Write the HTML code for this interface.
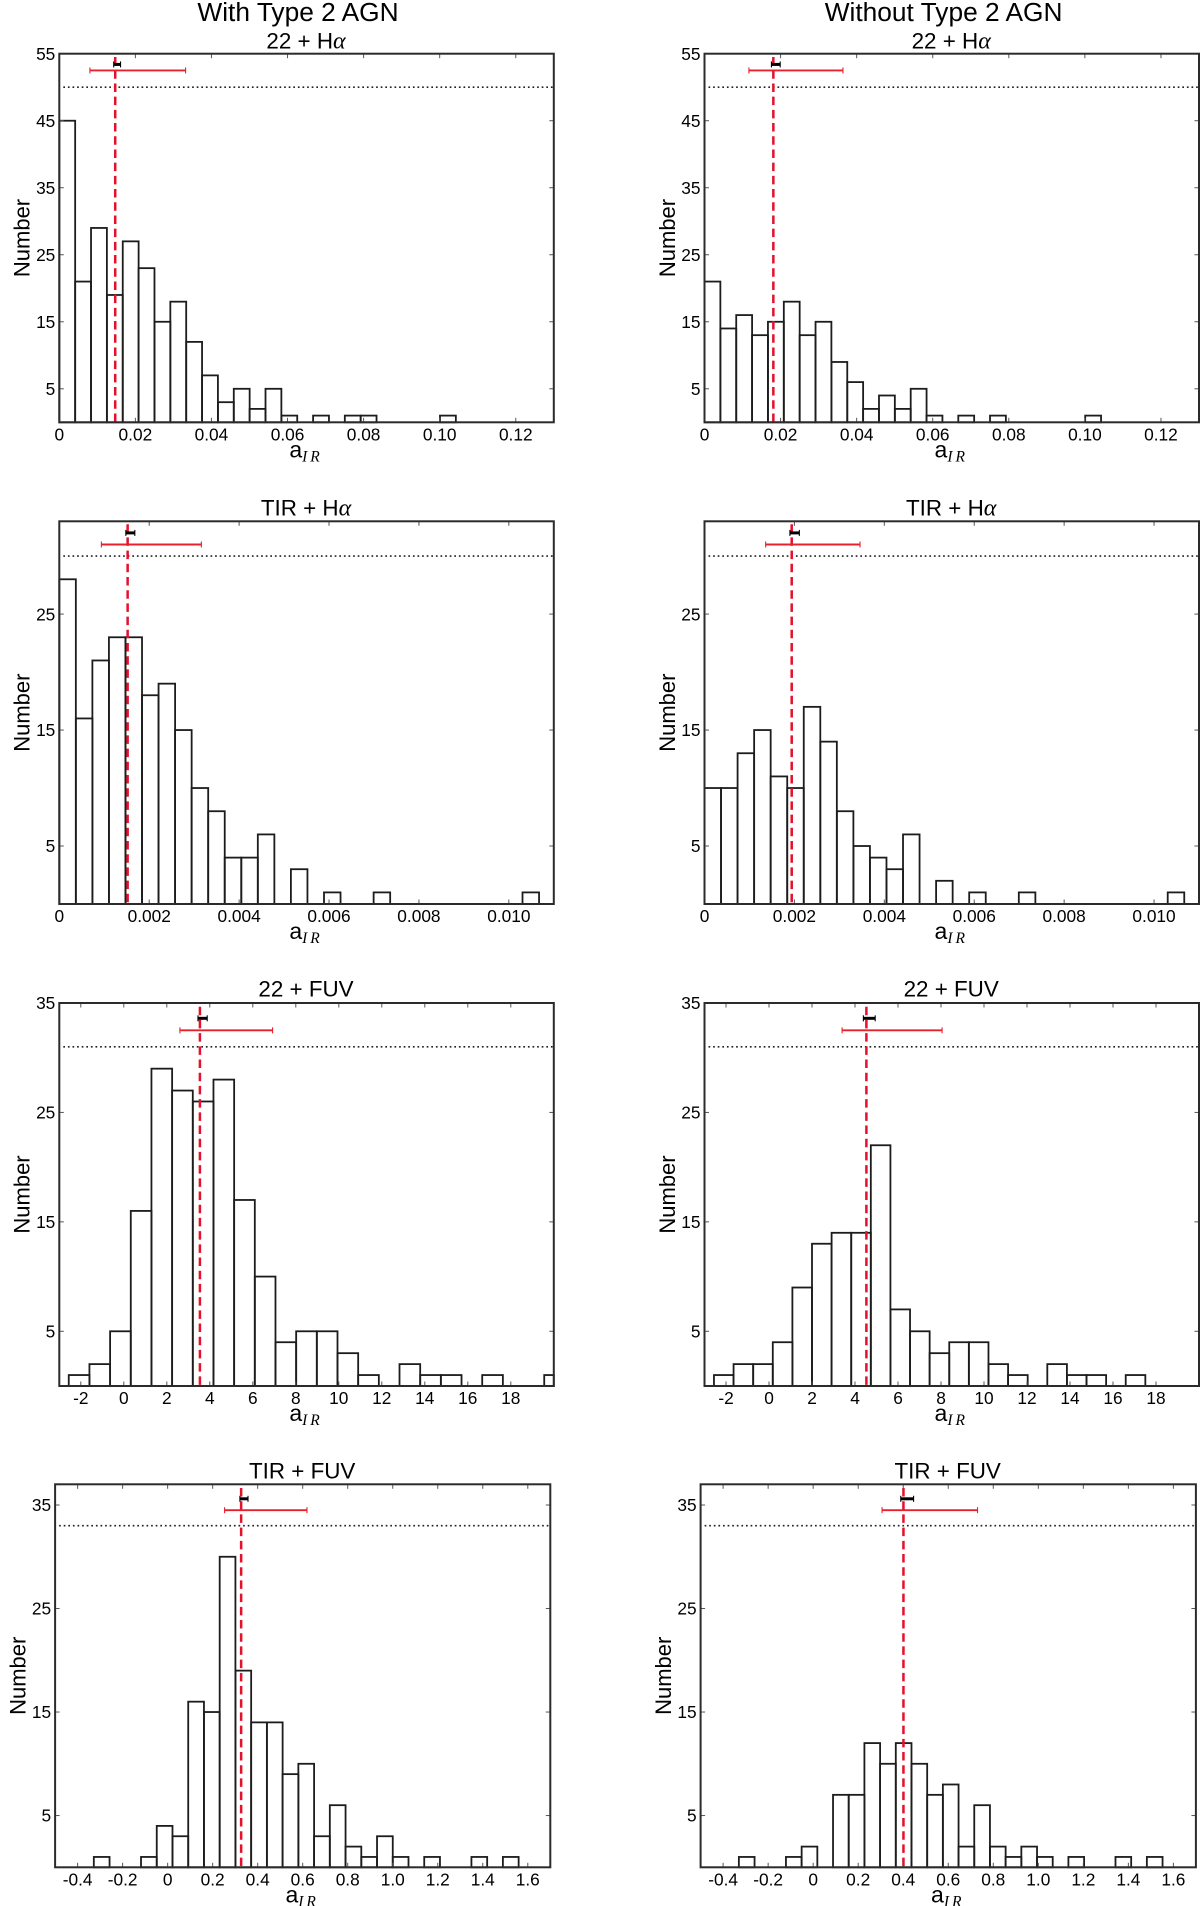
<!DOCTYPE html>
<html lang="en">
<head>
<meta charset="utf-8">
<title>Histograms of a_IR with and without Type 2 AGN</title>
<style>
html,body{margin:0;padding:0;background:#fff;}
svg{display:block;}
text{font-family:"Liberation Sans",sans-serif;fill:#000;}
.greek{font-family:"Liberation Serif",serif;font-style:italic;font-size:24px;}
</style>
</head>
<body>
<svg id="figure" xmlns="http://www.w3.org/2000/svg" width="1200" height="1906" viewBox="0 0 1200 1906">
<rect x="0" y="0" width="1200" height="1906" fill="#fff"/>
<text x="298" y="21" font-size="26.3" text-anchor="middle">With Type 2 AGN</text>
<text x="943.6" y="21" font-size="26.3" text-anchor="middle">Without Type 2 AGN</text>
<text x="306" y="48.3" font-size="22.4" text-anchor="middle">22 + H<tspan class="greek">α</tspan></text>
<text x="951.2" y="48.3" font-size="22.4" text-anchor="middle">22 + H<tspan class="greek">α</tspan></text>
<text x="306" y="515.5" font-size="22.4" text-anchor="middle">TIR + H<tspan class="greek">α</tspan></text>
<text x="951.2" y="515.5" font-size="22.4" text-anchor="middle">TIR + H<tspan class="greek">α</tspan></text>
<text x="306" y="996.7" font-size="22.4" text-anchor="middle">22 + FUV</text>
<text x="951.2" y="996.7" font-size="22.4" text-anchor="middle">22 + FUV</text>
<text x="302.2" y="1478.7" font-size="22.4" text-anchor="middle">TIR + FUV</text>
<text x="947.7" y="1478.7" font-size="22.4" text-anchor="middle">TIR + FUV</text>
</svg>
<script>
// Histogram counts
const countsWith22Ha = [45,21,29,19,27,23,15,18,12,7,3,5,2,5,1,0,1,0,1,1,0,0,0,0,1,0,0,0,0,0];
const countsWithout22Ha = [21,14,16,13,15,18,13,15,9,6,2,4,2,5,1,0,1,0,1,0,0,0,0,0,1,0,0,0,0,0];
const countsWithTirHa = [28,16,21,23,23,18,19,15,10,8,4,4,6,0,3,0,1,0,0,1,0,0,0,0,0,0,0,0,1];
const countsWithoutTirHa = [10,10,13,15,11,10,17,14,8,5,4,3,6,0,2,0,1,0,0,1,0,0,0,0,0,0,0,0,1];
const countsWith22Fuv = [1,2,5,16,29,27,26,28,17,10,4,5,5,3,1,0,2,1,1,0,1,0,0,1];
const countsWithout22Fuv = [1,2,2,4,9,13,14,14,22,7,5,3,4,4,2,1,0,2,1,1,0,1,0,0];
const countsWithTirFuv = [1,0,0,1,4,3,16,15,30,19,14,14,9,10,3,6,2,1,3,1,0,1,0,0,1,0,1];
const countsWithoutTirFuv = [1,0,0,1,2,0,7,7,12,10,12,10,7,8,2,6,2,1,2,1,0,1,0,0,1,0,1];

// Bin geometry in data units (first edge and width), panel order: row by row, left then right
const binStarts = [0,0,0,0,-2.56,-2.56,-0.328,-0.33];
const binWidths = [0.00417,0.00417,0.000368,0.000368,0.9615,0.912,0.0699,0.0697];

// Axis limits and tick labels
const xLimits22Ha = [0,0.13];
const xLimitsTirHa = [0,0.011];
const xLimits22Fuv = [-3,20];
const xLimitsTirFuv = [-0.5,1.7];
const yMaxima = [55,33,35,37];
const xTickLabels22Ha = ["0","0.02","0.04","0.06","0.08","0.10","0.12"];
const xTickLabelsTirHa = ["0","0.002","0.004","0.006","0.008","0.010"];
const xTickLabels22Fuv = ["-2","0","2","4","6","8","10","12","14","16","18"];
const xTickLabelsTirFuv = ["-0.4","-0.2","0","0.2","0.4","0.6","0.8","1.0","1.2","1.4","1.6"];
const yTickLabels22Ha = ["5","15","25","35","45","55"];
const yTickLabelsTirHa = ["5","15","25"];
const yTickLabels22Fuv = ["5","15","25","35"];
const yTickLabelsTirFuv = ["5","15","25","35"];

// Summary statistics drawn on each panel
const meanValues = [0.0147,0.0181,0.00152,0.00194,3.54,4.53,0.3265,0.401];
const redLow = [0.00805,0.01168,0.000936,0.00136,2.61,3.4,0.253,0.306];
const redHigh = [0.0332,0.0364,0.00316,0.00346,6.92,8.05,0.619,0.73];
const blackLow = [0.0143,0.0176,0.00148,0.0019,3.45,4.39,0.321,0.389];
const blackHigh = [0.0161,0.0199,0.00168,0.00211,3.88,4.94,0.357,0.446];
const redLevels = [52.5,31,32.5,34.5];
const blackLevels = [53.4,32,33.6,35.6];
const dottedLevels = [50,30,31,33];
const meanTops = [54.5,32.75,34.66,36.64];

// Frame layout
const rowFrames = [{top:53.7,bottom:422.3},{top:521.3,bottom:904},{top:1003,bottom:1386},{top:1484.3,bottom:1867.3}];
const colFrames = [[{left:59.3,right:553.8},{left:704.5,right:1199}],
                   [{left:59.3,right:553.8},{left:704.5,right:1199}],
                   [{left:59.3,right:553.8},{left:704.5,right:1199}],
                   [{left:55.1,right:550.3},{left:700.6,right:1195.9}]];

const allCounts = [countsWith22Ha,countsWithout22Ha,countsWithTirHa,countsWithoutTirHa,countsWith22Fuv,countsWithout22Fuv,countsWithTirFuv,countsWithoutTirFuv];
const allXLimits = [xLimits22Ha,xLimitsTirHa,xLimits22Fuv,xLimitsTirFuv];
const allXTicks = [xTickLabels22Ha,xTickLabelsTirHa,xTickLabels22Fuv,xTickLabelsTirFuv];
const allYTicks = [yTickLabels22Ha,yTickLabelsTirHa,yTickLabels22Fuv,yTickLabelsTirFuv];

const SVG_NS = "http://www.w3.org/2000/svg";
const figure = document.getElementById("figure");
const INK = "#1c1c1c";
const FRAME_INK = "#2b2b2b";
const TICK_INK = "#555";
const RED_LINE = "#e4102c";
const RED_BAR = "#e8202c";

function svgEl(tag, props, parent) {
  const node = document.createElementNS(SVG_NS, tag);
  for (const key in props) node.setAttribute(key, props[key]);
  parent.appendChild(node);
  return node;
}

function drawPanel(row, col) {
  const idx = row * 2 + col;
  const frame = {top: rowFrames[row].top, bottom: rowFrames[row].bottom, left: colFrames[row][col].left, right: colFrames[row][col].right};
  const limits = allXLimits[row];
  const yMax = yMaxima[row];
  const xScale = v => frame.left + (v - limits[0]) / (limits[1] - limits[0]) * (frame.right - frame.left);
  const yScale = v => frame.bottom - v / yMax * (frame.bottom - frame.top);

  const group = svgEl("g", {}, figure);
  
  

  // bars
  allCounts[idx].forEach((count, i) => {
    const edge = binStarts[idx] + i * binWidths[idx];
    const x0 = xScale(edge);
    const x1 = Math.min(xScale(edge + binWidths[idx]), frame.right);
    if (x0 >= frame.right) return;
    const bar = svgEl("rect", {x: x0, y: yScale(count), width: x1 - x0, height: yScale(0) - yScale(count), fill: "none", stroke: INK, "stroke-width": 1.8}, group);
    
    
  });

  // dotted reference line
  const dotted = svgEl("line", {x1: frame.left + 4, x2: frame.right, y1: yScale(dottedLevels[row]), y2: yScale(dottedLevels[row]), stroke: "#222", "stroke-width": 1.6, "stroke-dasharray": "1.7 2.9"}, group);
  
  

  // mean dashed line
  const meanLine = svgEl("line", {x1: xScale(meanValues[idx]), x2: xScale(meanValues[idx]), y1: yScale(meanTops[row]), y2: yScale(0), stroke: RED_LINE, "stroke-width": 2.5, "stroke-dasharray": "8.5 4.7"}, group);
  
  

  // red error bar
  const redY = yScale(redLevels[row]);
  const redBar = svgEl("path", {d: "M" + xScale(redLow[idx]) + " " + redY + "H" + xScale(redHigh[idx]), stroke: RED_BAR, "stroke-width": 1.9, fill: "none"}, group);
  
  
  [redLow[idx], redHigh[idx]].forEach(v => {
    const cap = svgEl("line", {x1: xScale(v), x2: xScale(v), y1: redY - 3, y2: redY + 3, stroke: RED_BAR, "stroke-width": 1.1}, group);
    
    
  });

  // black error bar
  const blackY = yScale(blackLevels[row]);
  const blackBar = svgEl("path", {d: "M" + xScale(blackLow[idx]) + " " + blackY + "H" + xScale(blackHigh[idx]), stroke: "#000", "stroke-width": 3, fill: "none"}, group);
  
  
  [blackLow[idx], blackHigh[idx]].forEach(v => {
    const cap = svgEl("line", {x1: xScale(v), x2: xScale(v), y1: blackY - 3, y2: blackY + 3, stroke: "#000", "stroke-width": 1.1}, group);
    
    
  });

  // x ticks and labels
  allXTicks[row].forEach(label => {
    const v = parseFloat(label);
    const px = xScale(v);
    [[frame.bottom, frame.bottom - 4.5], [frame.top, frame.top + 4.5]].forEach(span => {
      const tick = svgEl("line", {x1: px, x2: px, y1: span[0], y2: span[1], stroke: TICK_INK, "stroke-width": 1}, group);
      
      
    });
    const text = svgEl("text", {x: px, y: frame.bottom + 18, "font-size": 17.3, "text-anchor": "middle"}, group);
    text.textContent = label;
    
    
  });

  // y ticks and labels
  allYTicks[row].forEach(label => {
    const v = parseFloat(label);
    const py = yScale(v);
    [[frame.left, frame.left + 4.5], [frame.right, frame.right - 4.5]].forEach(span => {
      const tick = svgEl("line", {x1: span[0], x2: span[1], y1: py, y2: py, stroke: TICK_INK, "stroke-width": 1}, group);
      
      
    });
    const text = svgEl("text", {x: frame.left - 4, y: py + 6.2, "font-size": 17.3, "text-anchor": "end"}, group);
    text.textContent = label;
    
    
  });

  // frame
  const border = svgEl("rect", {x: frame.left, y: frame.top, width: frame.right - frame.left, height: frame.bottom - frame.top, fill: "none", stroke: FRAME_INK, "stroke-width": 2}, group);
  
  

  // axis titles
  const midX = (frame.left + frame.right) / 2;
  const midY = (frame.top + frame.bottom) / 2;
  const yTitleX = frame.left - 29.6;
  const yTitle = svgEl("text", {x: yTitleX, y: midY, "font-size": 22, "text-anchor": "middle", transform: "rotate(-90 " + yTitleX + " " + midY + ")"}, group);
  yTitle.textContent = "Number";
  
  

  const xTitle = svgEl("text", {x: midX - 0.5, y: frame.bottom + 35, "font-size": 23, "text-anchor": "middle"}, group);
  
  
  xTitle.appendChild(document.createTextNode("a"));
  const sub = svgEl("tspan", {dy: 4, "font-size": 15.5, "font-style": "italic", "font-family": "\"Liberation Serif\", serif", "letter-spacing": 3}, xTitle);
  sub.textContent = "IR";
}

for (let row = 0; row < 4; row++) {
  for (let col = 0; col < 2; col++) {
    drawPanel(row, col);
  }
}
</script>
</body>
</html>
